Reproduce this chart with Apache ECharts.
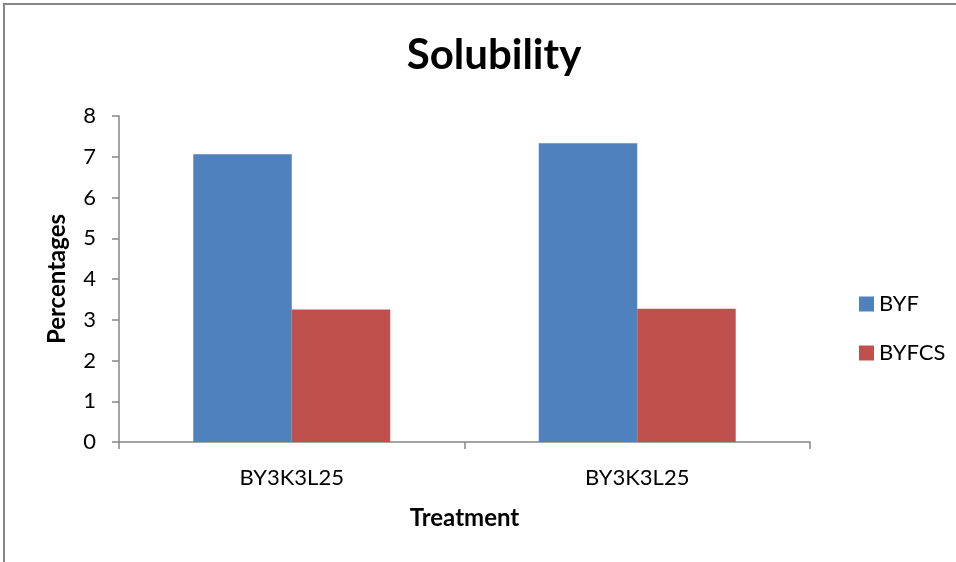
<!DOCTYPE html>
<html>
<head>
<meta charset="utf-8">
<script src="https://cdn.jsdelivr.net/npm/echarts@6/dist/echarts.min.js"></script>
<style>
  html, body { margin: 0; padding: 0; background: #fff; }
  #chart { width: 956px; height: 562px; }
</style>
</head>
<body>
<div id="chart"></div>
<script>
// Treatment categories and solubility percentages per formulation
const categories = ['BY3K3L25', 'BY3K3L25'];
const byf = [7.06, 7.33];
const byfcs = [3.25, 3.27];
const yTicks = { min: 0, max: 8, interval: 1 };

const FONT = 'Lato, "Liberation Sans", sans-serif';
const AXIS_GRAY = '#868686';

const chart = echarts.init(document.getElementById('chart'));
chart.setOption({
  backgroundColor: '#ffffff',
  animation: false,
  title: {
    text: 'Solubility',
    left: 489,
    textAlign: 'center',
    top: 29,
    textStyle: { fontFamily: FONT, fontSize: 42, fontWeight: 'bold', color: '#000' }
  },
  graphic: [{
    type: 'rect',
    shape: { x: 4, y: 4, width: 1000, height: 700 },
    style: { fill: 'none', stroke: AXIS_GRAY, lineWidth: 2 },
    silent: true
  }],
  legend: {
    orient: 'vertical',
    left: 854,
    top: 288,
    itemWidth: 15,
    itemHeight: 15,
    itemGap: 27,
    icon: 'rect',
    textStyle: { fontFamily: FONT, fontSize: 22, color: '#000' },
    data: ['BYF', 'BYFCS']
  },
  grid: { left: 119, right: 146, top: 116, bottom: 120 },
  xAxis: {
    type: 'category',
    data: categories,
    name: 'Treatment',
    nameLocation: 'middle',
    nameGap: 64,
    nameTextStyle: { fontFamily: FONT, fontSize: 24, fontWeight: 'bold', color: '#000' },
    axisLine: { lineStyle: { color: AXIS_GRAY, width: 1.5 } },
    axisTick: { show: true, length: 7, lineStyle: { color: AXIS_GRAY, width: 1.5 } },
    axisLabel: { fontFamily: FONT, fontSize: 22, color: '#000', margin: 25 }
  },
  yAxis: {
    type: 'value',
    min: yTicks.min,
    max: yTicks.max,
    interval: yTicks.interval,
    name: 'Percentages',
    nameLocation: 'middle',
    nameGap: 50,
    nameRotate: 90,
    nameTextStyle: { fontFamily: FONT, fontSize: 24, fontWeight: 'bold', color: '#000' },
    axisLine: { show: true, lineStyle: { color: AXIS_GRAY, width: 1.5 } },
    axisTick: { show: true, length: 7, lineStyle: { color: AXIS_GRAY, width: 1.5 } },
    splitLine: { show: false },
    axisLabel: { fontFamily: FONT, fontSize: 22, color: '#000', margin: 23 }
  },
  series: [
    {
      name: 'BYF',
      type: 'bar',
      data: byf,
      itemStyle: { color: '#4F81BD' },
      barGap: '0%',
      barCategoryGap: '43%'
    },
    {
      name: 'BYFCS',
      type: 'bar',
      data: byfcs,
      itemStyle: { color: '#C0504D' }
    }
  ]
});
</script>
</body>
</html>
